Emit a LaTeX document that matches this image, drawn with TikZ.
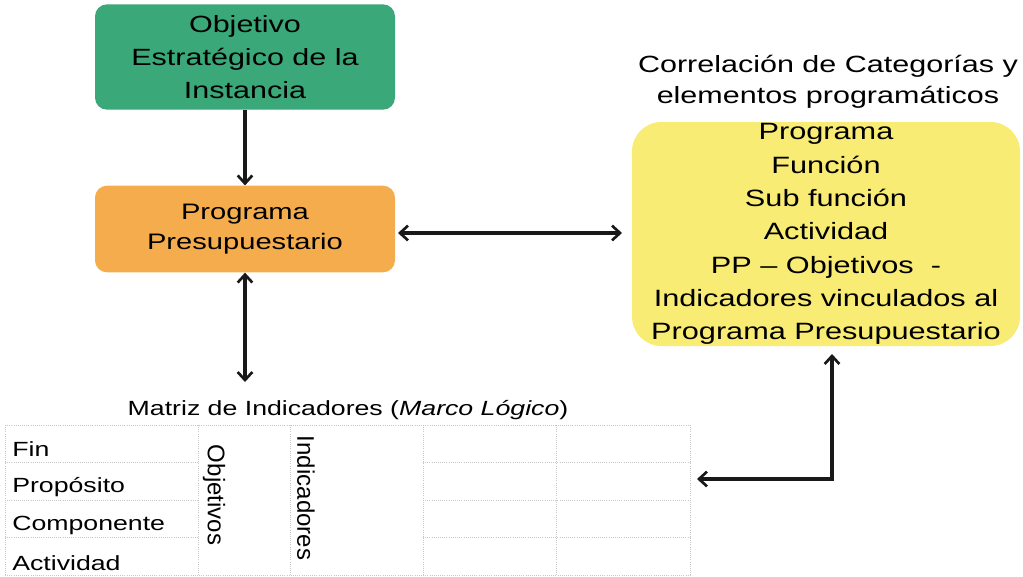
\documentclass[tikz,border=0pt]{standalone}
\usepackage{fontspec}
\setmainfont[FakeStretch=1.3]{Liberation Sans}
\newfontfamily\plainsans{Liberation Sans}
\usetikzlibrary{arrows.meta}
\definecolor{boxgreen}{HTML}{3AA878}
\definecolor{boxorange}{HTML}{F5AC4C}
\definecolor{boxyellow}{HTML}{F8EC74}
\definecolor{gridgray}{HTML}{C8C8C8}
\newcommand{\fs}[2]{\fontsize{#1}{#2}\selectfont}
\tikzset{
  x=0.75pt, y=-0.75pt,
  >={Straight Barb[length=6pt, width=11pt, line width=2pt]},
  box/.style={rounded corners=9pt, minimum width=225pt, align=center, inner sep=0pt},
  conn/.style={line width=2.4pt, draw=black!90},
  cell/.style={font=\fs{15.4pt}{18pt}, anchor=west, inner sep=0pt},
  vtext/.style={font=\plainsans\fs{18pt}{20pt}, rotate=-90, inner sep=0pt},
  gridline/.style={gridgray, line width=0.6pt, densely dotted}
}
\begin{document}
\begin{tikzpicture}
\useasboundingbox (0,0) rectangle (1023,576);
% boxes
\node[box, fill=boxgreen, minimum height=79pt, font=\fs{17.6pt}{24.5pt}] (obj) at (245,57) {Objetivo\\Estratégico de la\\Instancia};
\node[box, fill=boxorange, minimum height=65pt, font=\fs{16.8pt}{22.5pt}] (pp) at (245,229) {Programa\\Presupuestario};
\node[font=\fs{17.6pt}{23.5pt}, align=center, inner sep=0pt] (title) at (828,82) {Correlación de Categorías y\\elementos  programáticos};
\node[box, fill=boxyellow, rounded corners=22pt, minimum width=291pt, minimum height=168pt, font=\fs{17.7pt}{25pt}] (corr) at (826,234) {Programa\\Función\\Sub función\\Actividad\\PP -- Objetivos \ -\\Indicadores vinculados  al\\Programa Presupuestario};
% table
\node[font=\fs{15.4pt}{18pt}, inner sep=0pt] (mtitle) at (348,410) {Matriz  de Indicadores  (\textit{Marco Lógico})};
\foreach \xx in {5,198,290,423,556,690} \draw[gridline] (\xx,425) -- (\xx,576);
\draw[gridline] (5,425) -- (690,425);
\foreach \yy in {462,500,537} {
  \draw[gridline] (5,\yy) -- (198,\yy);
  \draw[gridline] (423,\yy) -- (690,\yy);
}
\draw[gridline] (5,575) -- (690,575);
\node[cell] (fin) at (12,449) {Fin};
\node[cell] (prop) at (12,487) {Propósito};
\node[cell] (comp) at (12,525) {Componente};
\node[cell] (act) at (12,563) {Actividad};
\node[vtext] (objv) at (214,495) {Objetivos};
\node[vtext] (ind) at (306,498) {Indicadores};
% connector ends
\coordinate (ppR) at (398,233);
\coordinate (corrL) at (622,233);
\coordinate (tblTop) at (245,382);
\coordinate (corrB) at (832,354);
\coordinate (corner) at (832,479);
\coordinate (tblin) at (697,479);
% connectors
\draw[conn, ->] (obj.south) -- (pp.north);
\draw[conn, <->] (ppR) -- (corrL);
\draw[conn, <->] (pp.south) -- (tblTop);
\draw[conn, <->] (corrB) -- (corner) -- (tblin);
\end{tikzpicture}
\end{document}
